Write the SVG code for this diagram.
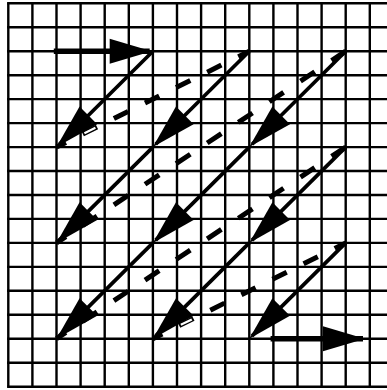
<svg xmlns="http://www.w3.org/2000/svg" width="387" height="390" viewBox="0 0 387 390">
<style>
.grid{stroke:#000;stroke-width:2.4;fill:none}
.solid{stroke:#000;stroke-width:3.7;fill:none;marker-end:url(#ah)}
.thick{stroke:#000;stroke-width:5.5;fill:none;marker-end:url(#ahh)}
.dash{stroke:#000;stroke-width:5;fill:none;stroke-dasharray:14.2 16.9;stroke-dashoffset:4.8}
.hollow{stroke:#fff;stroke-width:2.2;fill:none}
</style>
<defs>
<marker id="ah" markerUnits="userSpaceOnUse" orient="auto" markerWidth="60" markerHeight="30" viewBox="-50 -15 60 30" refX="0" refY="0" overflow="visible">
<path d="M4,0 L-41,-12.5 L-41,12.5 Z" fill="#000"/>
</marker>
<marker id="ahh" markerUnits="userSpaceOnUse" orient="auto" markerWidth="60" markerHeight="30" viewBox="-50 -15 60 30" refX="0" refY="0" overflow="visible">
<path d="M2,0 L-40,-12.5 L-40,12.5 Z" fill="#000"/>
</marker>
</defs>
<rect width="387" height="390" fill="#fff"/>
<g id="grid" class="grid">
<path d="M8.3,3.3V386.7M32.4,3.3V386.7M56.5,3.3V386.7M80.6,3.3V386.7M104.7,3.3V386.7M128.8,3.3V386.7M152.9,3.3V386.7M177,3.3V386.7M201.1,3.3V386.7M225.2,3.3V386.7M249.3,3.3V386.7M273.4,3.3V386.7M297.5,3.3V386.7M321.6,3.3V386.7M345.7,3.3V386.7M369.8,3.3V386.7"/>
<path d="M7.1,3.3H387M7.1,27.3H387M7.1,51.2H387M7.1,75.2H387M7.1,99.1H387M7.1,123.1H387M7.1,147.1H387M7.1,171H387M7.1,195H387M7.1,218.9H387M7.1,242.9H387M7.1,266.9H387M7.1,290.8H387M7.1,314.8H387M7.1,338.7H387M7.1,362.7H387M7.1,386.7H387"/>
</g>
<g id="connectors">
<path class="dash" pathLength="192.8" d="M56.5,147.1L249.3,51.2"/>
<path class="dash" pathLength="289.2" d="M56.5,242.9L345.7,51.2"/>
<path class="dash" pathLength="289.2" d="M56.5,338.7L345.7,147.1"/>
<path class="dash" pathLength="192.8" d="M152.9,338.7L345.7,242.9"/>
<path class="hollow" d="M84.4,133.2L95.4,127.8"/>
<path class="hollow" d="M180.8,324.8L191.8,319.4"/>
<path class="thick" d="M53.8,51.2H149.7"/>
<path class="solid" d="M152.9,51.2L59.3,144.3"/>
<path class="solid" d="M249.3,51.2L155.7,144.3"/>
<path class="solid" d="M152.9,147.1L59.3,240.1"/>
<path class="solid" d="M345.7,51.2L252.1,144.3"/>
<path class="solid" d="M249.3,147.1L155.7,240.1"/>
<path class="solid" d="M152.9,242.9L59.3,335.9"/>
<path class="solid" d="M345.7,147.1L252.1,240.1"/>
<path class="solid" d="M249.3,242.9L155.7,335.9"/>
<path class="solid" d="M345.7,242.9L252.1,335.9"/>
<path class="thick" d="M270.6,338.7H363"/>
</g>
</svg>
